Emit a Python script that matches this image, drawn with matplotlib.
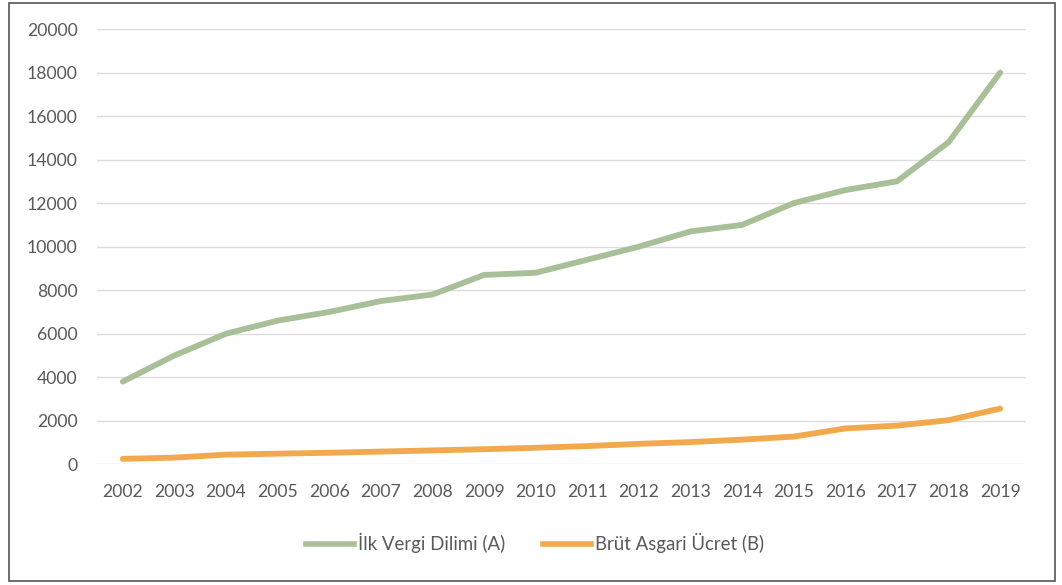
import numpy as np
import matplotlib.pyplot as plt
from matplotlib.patches import Rectangle
from matplotlib.lines import Line2D

plt.rcParams['font.family'] = ['Lato', 'DejaVu Sans']

## yearly values
years = [2002, 2003, 2004, 2005, 2006, 2007, 2008, 2009, 2010,
         2011, 2012, 2013, 2014, 2015, 2016, 2017, 2018, 2019]
vergi_dilimi = [3800, 5000, 6000, 6600, 7000, 7500, 7800, 8700, 8800,
                9400, 10000, 10700, 11000, 12000, 12600, 13000, 14800, 18000]
asgari_ucret = [250, 306, 444, 488, 531, 585, 638, 693, 760,
                837, 940, 1021, 1134, 1273, 1647, 1777, 2029, 2558]

green = '#a8bf98'
orange = '#f2a84c'
txt = '#595959'

fig = plt.figure(figsize=(10.62, 5.85), dpi=100)
ax = fig.add_axes([97 / 1062, 1 - 464.3 / 585, (1026 - 97) / 1062, (464.3 - 29) / 585])

ax.plot(years, vergi_dilimi, color=green, lw=4.2, solid_capstyle='round', label='İlk Vergi Dilimi (A)')
ax.plot(years, asgari_ucret, color=orange, lw=4.2, solid_capstyle='round', label='Brüt Asgari Ücret (B)')

ax.set_xlim(2001.5, 2019.5)
ax.set_ylim(0, 20000)
ax.set_yticks(np.arange(0, 20001, 2000))
ax.set_xticks(years)
ax.grid(axis='y', color='#dcdcdc', lw=1)
ax.set_axisbelow(True)
for s in ax.spines.values():
    s.set_visible(False)
ax.tick_params(length=0, labelsize=12.7, labelcolor=txt)
ax.tick_params(axis='y', pad=14)
ax.tick_params(axis='x', pad=14)

handles = [Line2D([], [], color=green, lw=4), Line2D([], [], color=orange, lw=4)]
fig.legend(handles, ['İlk Vergi Dilimi (A)', 'Brüt Asgari Ücret (B)'], loc='center',
           bbox_to_anchor=(535 / 1062, 1 - 543 / 585), ncol=2, frameon=False,
           fontsize=13.4, labelcolor=txt, handlelength=2.6, handletextpad=0.2, columnspacing=2.0)

## outer frame
fig.patches.append(Rectangle((9 / 1062, 4 / 585), (1055 - 9) / 1062, (583 - 5) / 585,
                             transform=fig.transFigure, fill=False, edgecolor='#555555', lw=1.2))

fig.savefig('out.png', dpi=100)
